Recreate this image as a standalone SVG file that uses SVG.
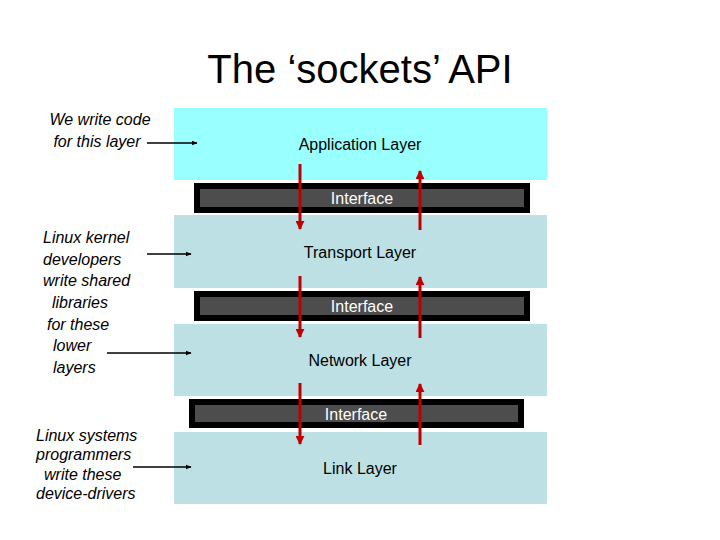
<svg xmlns="http://www.w3.org/2000/svg" width="720" height="540" viewBox="0 0 720 540">
<style>
text{font-family:"Liberation Sans",Arial,sans-serif}
.lay{fill:#bde0e4}
.lt{font-size:16px;text-anchor:middle;fill:#000}
.io{fill:#000}.ii{fill:#4d4d4d}
.it{font-size:16px;text-anchor:middle;fill:#fff}
.lbl{font-size:16px;font-style:italic}
.red{stroke:#c00000;stroke-width:3;fill:none}
.blk{stroke:#000;stroke-width:1.5;fill:none}
</style>
<defs>
<marker id="rh" viewBox="0 0 10 10" refX="9" refY="5" markerWidth="3" markerHeight="3" orient="auto"><path d="M0,0L10,5L0,10z" fill="#c00000"/></marker>
<marker id="bh" viewBox="0 0 10 10" refX="9" refY="5" markerWidth="4" markerHeight="4" orient="auto"><path d="M0,1L10,5L0,9z" fill="#000"/></marker>
</defs>
<text x="360" y="83" font-size="40" text-anchor="middle">The ‘sockets’ API</text>
<g id="app"><rect x="174" y="108" width="373" height="72" fill="#99ffff"/><text class="lt" x="360" y="150">Application Layer</text></g>
<g id="if1"><rect class="io" x="194" y="183" width="336" height="30"/><rect class="ii" x="200" y="189" width="324" height="18"/><text class="it" x="362" y="204">Interface</text></g>
<g id="transport"><rect class="lay" x="174" y="215" width="373" height="73"/><text class="lt" x="360" y="258">Transport Layer</text></g>
<g id="if2"><rect class="io" x="194" y="291" width="336" height="30"/><rect class="ii" x="200" y="297" width="324" height="18"/><text class="it" x="362" y="312">Interface</text></g>
<g id="network"><rect class="lay" x="174" y="324" width="373" height="72"/><text class="lt" x="360" y="366">Network Layer</text></g>
<g id="if3"><rect class="io" x="189" y="399" width="335" height="29"/><rect class="ii" x="195" y="405" width="323" height="17"/><text class="it" x="356" y="420">Interface</text></g>
<g id="link"><rect class="lay" x="174" y="432" width="373" height="72"/><text class="lt" x="360" y="474">Link Layer</text></g>
<g id="labels">
<text class="lbl" x="100" y="125" text-anchor="middle">We write code</text>
<text class="lbl" x="97" y="147" text-anchor="middle">for this layer</text>
<text class="lbl" x="43" y="243">Linux kernel</text>
<text class="lbl" x="43" y="265">developers</text>
<text class="lbl" x="43" y="286">write shared</text>
<text class="lbl" x="52" y="308">libraries</text>
<text class="lbl" x="47" y="330">for these</text>
<text class="lbl" x="53" y="351">lower</text>
<text class="lbl" x="53" y="373">layers</text>
<text class="lbl" x="36" y="441" font-size="14">Linux systems</text>
<text class="lbl" x="36" y="460" font-size="14">programmers</text>
<text class="lbl" x="44" y="480" font-size="14">write these</text>
<text class="lbl" x="36" y="499" font-size="14">device-drivers</text>
</g>
<g id="connectors">
<line class="blk" x1="147" y1="143" x2="197" y2="143" marker-end="url(#bh)"/>
<line class="blk" x1="147" y1="254" x2="191" y2="254" marker-end="url(#bh)"/>
<line class="blk" x1="107" y1="353" x2="191" y2="353" marker-end="url(#bh)"/>
<line class="blk" x1="133" y1="467" x2="191" y2="467" marker-end="url(#bh)"/>
<line class="red" x1="300" y1="164" x2="300" y2="229" marker-end="url(#rh)"/>
<line class="red" x1="420" y1="230" x2="420" y2="171" marker-end="url(#rh)"/>
<line class="red" x1="300" y1="276" x2="300" y2="337" marker-end="url(#rh)"/>
<line class="red" x1="420" y1="338" x2="420" y2="277" marker-end="url(#rh)"/>
<line class="red" x1="300" y1="383" x2="300" y2="444" marker-end="url(#rh)"/>
<line class="red" x1="420" y1="445" x2="420" y2="384" marker-end="url(#rh)"/>
</g>
</svg>
